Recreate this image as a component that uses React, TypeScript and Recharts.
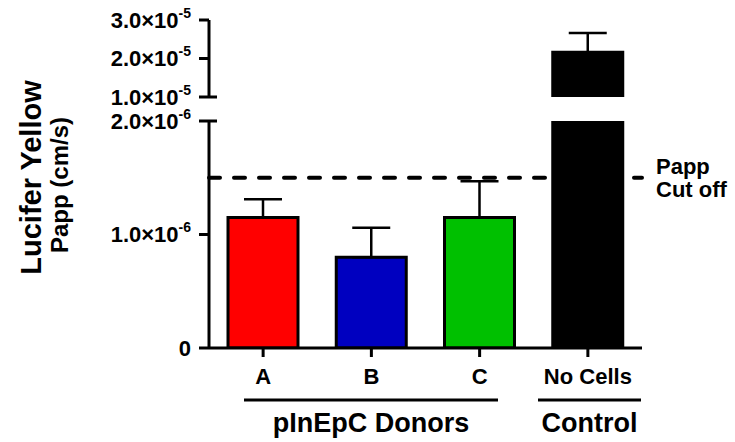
import { Bar, BarChart, Cell, ErrorBar, ReferenceLine, XAxis, YAxis } from "recharts";

const categories = ["A", "B", "C", "No Cells"];
const papp = [1.15e-6, 0.8e-6, 1.15e-6, 2.16e-5];
const sem = [0.16e-6, 0.26e-6, 0.32e-6, 0.5e-5];
const cutoff = 1.5e-6;

const lowerTicks = [0, 1e-6, 2e-6];
const upperTicks = [1e-5, 2e-5, 3e-5];

const groups = [
  { label: "pInEpC Donors", x1: 244, x2: 498 },
  { label: "Control", x1: 538, x2: 641 },
];

const barColors = ["#ff0000", "#0000c0", "#00c000", "#000000"];

const W = 735;
const H = 442;
const FONT = '"Liberation Sans", Arial, sans-serif';
const AXIS_W = 209;
const RIGHT = 93;

const lowerMax = lowerTicks[lowerTicks.length - 1];
const upperMin = upperTicks[0];

const lowerData = categories.map((name, i) => ({
  name,
  value: papp[i],
  err: papp[i] <= lowerMax ? [0, sem[i]] : undefined,
}));

const upperData = categories.map((name, i) => ({
  name,
  value: papp[i] >= upperMin ? papp[i] : null,
  err: papp[i] >= upperMin ? [0, sem[i]] : undefined,
}));

function sci(v: number) {
  if (v === 0) return { m: "0", e: "" };
  const e = Math.floor(Math.log10(v) + 1e-9);
  return { m: (v / Math.pow(10, e)).toFixed(1) + "\u00d710", e: String(e) };
}

// y tick with superscript exponent; the break tick gets a stub to the right
function SciTick(props: any) {
  const { x, y, payload, breakAt } = props;
  const { m, e } = sci(payload.value);
  const axisX = x + 18;
  return (
    <g>
      <text
        x={x}
        y={y}
        dy="0.36em"
        textAnchor="end"
        fill="#000"
        fontSize={22}
        fontWeight="bold"
        fontFamily={FONT}
      >
        <tspan>{m}</tspan>
        {e && (
          <tspan dy={-10} fontSize={14}>
            {e}
          </tspan>
        )}
      </text>
      {payload.value === breakAt && (
        <line x1={axisX} y1={y} x2={axisX + 8} y2={y} stroke="#000" strokeWidth={3} />
      )}
    </g>
  );
}

const axisStyle = { stroke: "#000", strokeWidth: 3 };

export default function App() {
  return (
    <div style={{ position: "relative", width: W, height: H, fontFamily: FONT }}>
      <style>{"body{margin:0}"}</style>

      <div style={{ position: "absolute", left: 0, top: 0 }}>
        <BarChart width={W} height={H} data={lowerData} margin={{ top: 121, right: RIGHT, bottom: 54, left: 0 }}>
          <XAxis
            dataKey="name"
            height={40}
            tickSize={9}
            tickMargin={11}
            axisLine={axisStyle}
            tickLine={axisStyle}
            tick={{ fill: "#000", fontSize: 22, fontWeight: "bold" }}
          />
          <YAxis
            width={AXIS_W}
            domain={[0, lowerMax]}
            ticks={lowerTicks}
            interval={0}
            allowDataOverflow
            tickSize={10}
            tickMargin={8}
            axisLine={axisStyle}
            tickLine={axisStyle}
            tick={(p: any) => <SciTick {...p} breakAt={lowerMax} />}
          />
          <Bar dataKey="value" barSize={70} stroke="#000" strokeWidth={3} isAnimationActive={false}>
            {lowerData.map((d, i) => (
              <Cell key={d.name} fill={barColors[i]} />
            ))}
            <ErrorBar dataKey="err" width={19} stroke="#000" strokeWidth={2.5} direction="y" isAnimationActive={false} />
          </Bar>
          <ReferenceLine y={cutoff} stroke="#000" strokeWidth={4} strokeDasharray="11 14" strokeLinecap="round" />
        </BarChart>
      </div>

      <div style={{ position: "absolute", left: 0, top: 0 }}>
        <BarChart width={W} height={H} data={upperData} margin={{ top: 20, right: RIGHT, bottom: 345, left: 0 }}>
          <XAxis dataKey="name" hide />
          <YAxis
            width={AXIS_W}
            domain={[upperMin, upperTicks[upperTicks.length - 1]]}
            ticks={upperTicks}
            interval={0}
            allowDataOverflow
            tickSize={10}
            tickMargin={8}
            axisLine={axisStyle}
            tickLine={axisStyle}
            tick={(p: any) => <SciTick {...p} breakAt={upperMin} />}
          />
          <Bar dataKey="value" barSize={70} stroke="#000" strokeWidth={3} isAnimationActive={false}>
            {upperData.map((d, i) => (
              <Cell key={d.name} fill={barColors[i]} />
            ))}
            <ErrorBar dataKey="err" width={19} stroke="#000" strokeWidth={2.5} direction="y" isAnimationActive={false} />
          </Bar>
        </BarChart>
      </div>

      <svg width={W} height={H} style={{ position: "absolute", left: 0, top: 0, pointerEvents: "none" }}>
        <text transform="translate(41,177.5) rotate(-90)" textAnchor="middle" fontSize={29} fontWeight="bold" fill="#000">
          Lucifer Yellow
        </text>
        <text transform="translate(68,185) rotate(-90)" textAnchor="middle" fontSize={24} fontWeight="bold" fill="#000">
          Papp (cm/s)
        </text>
        <text x={656} y={174} fontSize={22} fontWeight="bold" fill="#000">
          Papp
        </text>
        <text x={656} y={197} fontSize={22} fontWeight="bold" fill="#000">
          Cut off
        </text>
        {groups.map((g) => (
          <g key={g.label}>
            <line x1={g.x1} y1={400} x2={g.x2} y2={400} stroke="#000" strokeWidth={3} />
            <text x={(g.x1 + g.x2) / 2} y={432} textAnchor="middle" fontSize={27} fontWeight="bold" fill="#000">
              {g.label}
            </text>
          </g>
        ))}
      </svg>
    </div>
  );
}
